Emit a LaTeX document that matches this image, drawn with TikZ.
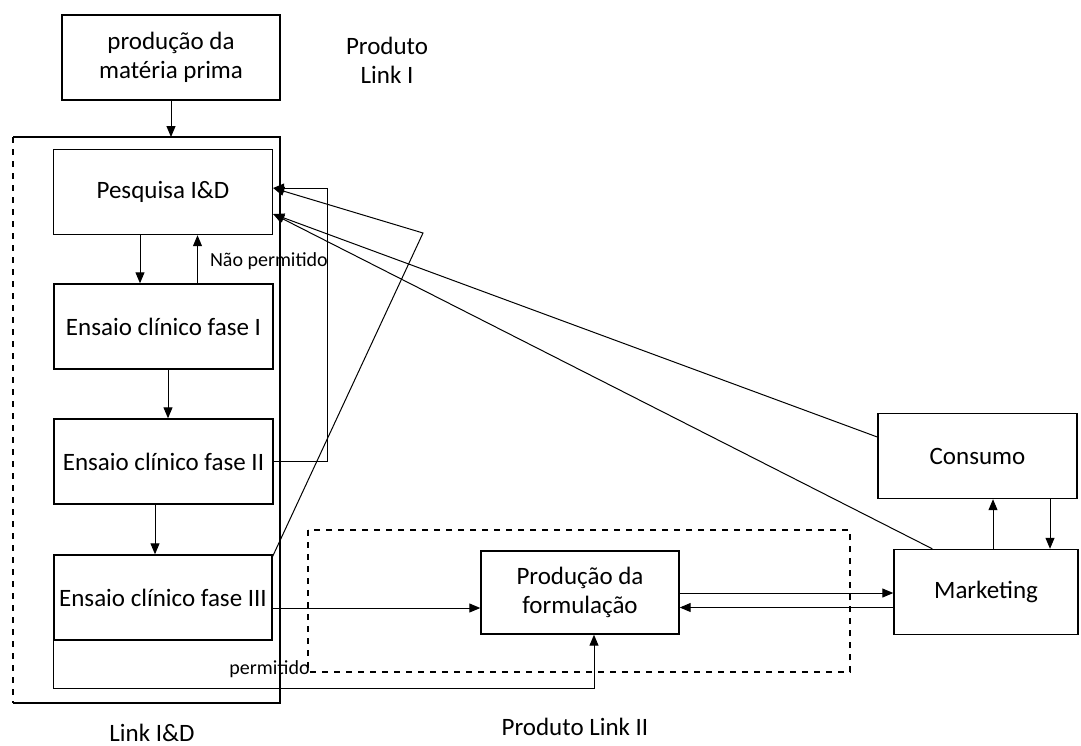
\documentclass[tikz,border=0pt]{standalone}
\usepackage{fontspec}
\setmainfont{Carlito}
\usetikzlibrary{arrows.meta, positioning, calc}
\tikzset{
  chain/.style = {
    font=\fontsize{12.5}{14.5}\selectfont,
    >={Triangle[length=5.5pt, width=4.5pt]},
  },
  stage/.style = {
    rectangle, draw, line width=0.7pt, align=center, inner sep=2pt,
    minimum height=42.5pt,
  },
  arr/.style = {->, line width=0.5pt},
  frame/.style = {line width=0.6pt},
  note/.style = {font=\fontsize{10}{12}\selectfont, inner sep=1pt},
  title/.style = {align=center, inner sep=0pt},
}

\begin{document}
\begin{tikzpicture}[chain, x=0.5pt, y=-0.5pt]
\useasboundingbox (0,0) rectangle (1081,745);

\node[stage, minimum width=109pt] (mp)   at (171,57.5)  {produção da\\matéria prima};
\node[stage, minimum width=109.5pt] (pesq) at (163,192)   {Pesquisa I\&D};
\node[stage, minimum width=109.5pt] (ens1) at (163.5,326.5) {Ensaio clínico fase I};
\node[stage, minimum width=109.5pt] (ens2) at (163.5,461.5) {Ensaio clínico fase II};
\node[stage, minimum width=109pt] (ens3) at (163,597.5) {Ensaio clínico fase III};
\node[stage, minimum width=99pt, minimum height=41.5pt] (form) at (580,592.5) {Produção da\\formulação};
\node[stage, minimum width=99.5pt] (cons) at (977.5,456) {Consumo};
\node[stage, minimum width=92pt] (mkt)  at (986,592)   {Marketing};

% Link I&D frame
\coordinate (fnw) at (13,137);
\coordinate (fse) at (280,703);
\draw[frame] (fnw) -| (fse) -- (fse -| fnw);
\draw[frame, dashed] (fnw) -- (fse -| fnw);
% Produto Link II frame
\draw[frame, dashed] (308,530) rectangle (850,672);

\node[title] (lnk1) at (387,60)  {Produto\\Link I};
\node[title] (lnkid) at (152,733) {Link I\&D};
\node[title] (lnk2) at (575,727) {Produto Link II};

\coordinate (bend) at (423,233);
\coordinate (e3) at ([yshift=-5.25pt]ens3.east);
\coordinate (fo) at ([yshift=-0.25pt]form.east);
\coordinate (mi) at ([yshift=-7.75pt]mkt.west);

\draw[arr] (mp.south) -- (mp.south |- fnw);
\draw[arr] ([xshift=-11.5pt]pesq.south) -- ([xshift=-11.5pt]pesq.south |- ens1.north);
\draw[arr] ([xshift=17pt]ens1.north) -- node[note, right=5pt, pos=0.45] {Não permitido} ([xshift=17pt]ens1.north |- pesq.south);
\draw[arr] ([xshift=2.25pt]ens1.south) -- ([xshift=2.25pt]ens1.south |- ens2.north);
\draw[arr] ([xshift=-4.25pt]ens2.south) -- ([xshift=-4.25pt]ens2.south |- ens3.north);
\draw[arr] (ens2.east) -- ++(54,0) |- ([yshift=2pt]pesq.east);
\draw[arr] ([yshift=-1pt]ens3.north east) -- (bend) -- ([yshift=2pt]pesq.east);
\draw[arr] ([yshift=9.5pt]cons.west) -- ([yshift=-11pt]pesq.east);
\draw[arr] ([xshift=19.5pt]mkt.north west) -- ([yshift=-11pt]pesq.east);
\draw[arr] (e3) -- (e3 -| form.west);
\draw[arr] (fo) -- (fo -| mkt.west);
\draw[arr] (mi) -- (mi -| form.east);
\draw[arr] ([xshift=3.5pt]mkt.north) -- ([xshift=3.5pt]mkt.north |- cons.south);
\draw[arr] ([xshift=36.25pt]cons.south) -- ([xshift=36.25pt]cons.south |- mkt.north);
\draw[arr] (ens3.south west) -- ++(0,48) -| node[note, pos=0.2, above=4pt] {permitido} ([xshift=7pt]form.south);

\end{tikzpicture}
\end{document}
